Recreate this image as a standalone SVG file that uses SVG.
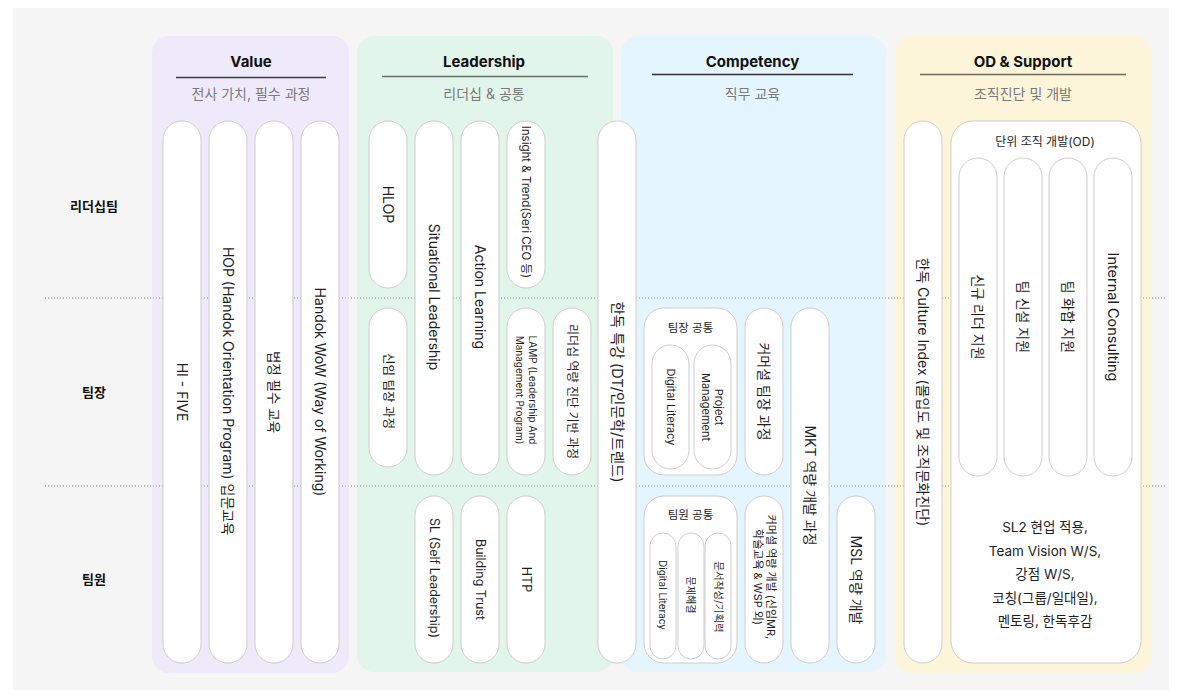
<svg xmlns="http://www.w3.org/2000/svg" width="1182" height="697" viewBox="0 0 1182 697">
<style>
text{font-family:Inter,"Noto Sans CJK KR",sans-serif;fill:#1e1e1e}
.title{font-size:15px;font-weight:700;text-anchor:middle;fill:#111}
.sub{font-size:14px;text-anchor:middle;fill:#7a7a7a}
.row{font-size:13px;font-weight:700;text-anchor:middle;dominant-baseline:central;fill:#111}
.pill{fill:#fff;stroke:#cdcdcd;stroke-width:1}
.grp{fill:#fff;stroke:#cdcdcd;stroke-width:1}
.vt{text-anchor:middle;dominant-baseline:central}
.lbl{text-anchor:middle;dominant-baseline:central}
.dot{stroke:#8a8a8a;stroke-width:1;stroke-dasharray:1 2;fill:none}
</style>
<rect x="0" y="0" width="1182" height="697" fill="#ffffff"/>
<rect x="13" y="8" width="1156" height="682" fill="#f5f5f5"/>

<!-- panels -->
<g id="panel-value">
<rect x="152" y="36" width="197" height="637" rx="17" fill="#eeeafa"/>
<text class="title" x="251" y="67">Value</text>
<line x1="176" y1="77.5" x2="326" y2="77.5" stroke="#3c3c3c" stroke-width="1.5"/>
<text class="sub" x="251" y="98.5">전사 가치, 필수 과정</text>
</g>
<g id="panel-leadership">
<rect x="357" y="36" width="256" height="636" rx="17" fill="#e2f5ea"/>
<text class="title" x="484" y="67">Leadership</text>
<line x1="382" y1="76.5" x2="588" y2="76.5" stroke="#66736a" stroke-width="1.5"/>
<text class="sub" x="484" y="98.5">리더십 &amp; 공통</text>
</g>
<g id="panel-competency">
<rect x="621" y="36" width="265" height="636" rx="17" fill="#e4f5fd"/>
<text class="title" x="752.5" y="67">Competency</text>
<line x1="652" y1="74.5" x2="853" y2="74.5" stroke="#333" stroke-width="1.5"/>
<text class="sub" x="752.5" y="98.5">직무 교육</text>
</g>
<g id="panel-od">
<rect x="895" y="36" width="256" height="637" rx="17" fill="#fdf5d9"/>
<text class="title" x="1023" y="67">OD &amp; Support</text>
<line x1="920" y1="74.5" x2="1126" y2="74.5" stroke="#6e6a5a" stroke-width="1.5"/>
<text class="sub" x="1023" y="98.5">조직진단 및 개발</text>
</g>

<!-- row labels -->
<g id="rows">
<text class="row" x="94" y="206">리더십팀</text>
<text class="row" x="94" y="392">팀장</text>
<text class="row" x="94" y="579">팀원</text>
</g>

<!-- row separators -->
<g id="connectors">
<line class="dot" x1="45" y1="298" x2="1165" y2="298"/>
<line class="dot" x1="45" y1="486" x2="1165" y2="486"/>
</g>

<!-- Value -->
<g id="n-hifive"><rect class="pill" x="163" y="121" width="38" height="542" rx="19"/>
<text class="vt" font-size="14" transform="translate(182,392) rotate(90)">HI - FIVE</text></g>
<g id="n-hop"><rect class="pill" x="209" y="121" width="38" height="542" rx="19"/>
<text class="vt" font-size="14" transform="translate(228,391) rotate(90)">HOP (Handok Orientation Program) 입문교육</text></g>
<g id="n-legal"><rect class="pill" x="255" y="121" width="38" height="542" rx="19"/>
<text class="vt" font-size="13.5" transform="translate(274,392) rotate(90)">법정 필수 교육</text></g>
<g id="n-wow"><rect class="pill" x="301" y="121" width="38" height="542" rx="19"/>
<text class="vt" font-size="14" transform="translate(320,392) rotate(90)">Handok WoW (Way of Working)</text></g>

<!-- Leadership -->
<g id="n-hlop"><rect class="pill" x="369" y="121" width="38" height="167" rx="19"/>
<text class="vt" font-size="14" transform="translate(388,204.5) rotate(90)">HLOP</text></g>
<g id="n-situational"><rect class="pill" x="415" y="121" width="38" height="354" rx="19"/>
<text class="vt" font-size="14" transform="translate(434,297) rotate(90)">Situational Leadership</text></g>
<g id="n-action"><rect class="pill" x="461" y="121" width="38" height="354" rx="19"/>
<text class="vt" font-size="14" transform="translate(480,297) rotate(90)">Action Learning</text></g>
<g id="n-insight"><rect class="pill" x="507" y="121" width="38" height="167" rx="19"/>
<text class="vt" font-size="11.5" transform="translate(526,202) rotate(90)">Insight &amp; Trend(Seri CEO 등)</text></g>
<g id="n-newlead"><rect class="pill" x="369" y="308" width="38" height="159" rx="19"/>
<text class="vt" font-size="12.5" transform="translate(388,391) rotate(90)">신임 팀장 과정</text></g>
<g id="n-lamp"><rect class="pill" x="507" y="308" width="38" height="167" rx="19"/>
<text class="vt" font-size="10" transform="translate(526,390) rotate(90)"><tspan x="0" y="-6.5">LAMP (Leadership And</tspan><tspan x="0" y="6.5">Management Program)</tspan></text></g>
<g id="n-diag"><rect class="pill" x="553" y="308" width="38" height="167" rx="19"/>
<text class="vt" font-size="12" transform="translate(572,391.5) rotate(90)">리더십 역량 진단 기반 과정</text></g>
<g id="n-sl"><rect class="pill" x="415" y="496" width="38" height="167" rx="19"/>
<text class="vt" font-size="12.5" transform="translate(434,578) rotate(90)">SL (Self Leadership)</text></g>
<g id="n-trust"><rect class="pill" x="461" y="496" width="38" height="167" rx="19"/>
<text class="vt" font-size="12.5" transform="translate(480,579.5) rotate(90)">Building Trust</text></g>
<g id="n-htp"><rect class="pill" x="507" y="496" width="38" height="167" rx="19"/>
<text class="vt" font-size="12.5" transform="translate(526,579.5) rotate(90)">HTP</text></g>
<g id="n-special"><rect class="pill" x="598" y="121" width="38" height="542" rx="19"/>
<text class="vt" font-size="14.5" transform="translate(617,392) rotate(90)">한독 특강 (DT/인문학/트렌드)</text></g>

<!-- Competency -->
<g id="n-lead-common"><rect class="grp" x="644" y="308" width="93" height="167" rx="20"/>
<text class="lbl" font-size="11.5" x="690.5" y="328">팀장 공통</text>
<rect class="pill" x="652" y="345" width="37" height="124" rx="18.5"/>
<text class="vt" font-size="11" transform="translate(670.5,407) rotate(90)">Digital Literacy</text>
<rect class="pill" x="694" y="345" width="37" height="124" rx="18.5"/>
<text class="vt" font-size="11" transform="translate(712.5,407) rotate(90)"><tspan x="0" y="-6.5">Project</tspan><tspan x="0" y="6.5">Management</tspan></text></g>
<g id="n-comm-lead"><rect class="pill" x="745" y="308" width="38" height="167" rx="19"/>
<text class="vt" font-size="14" transform="translate(764,391.5) rotate(90)">커머셜 팀장 과정</text></g>
<g id="n-mkt"><rect class="pill" x="791" y="308" width="38" height="355" rx="19"/>
<text class="vt" font-size="14" transform="translate(810,485.5) rotate(90)">MKT 역량 개발 과정</text></g>
<g id="n-member-common"><rect class="grp" x="644" y="496" width="93" height="167" rx="20"/>
<text class="lbl" font-size="11.5" x="690.5" y="515">팀원 공통</text>
<rect class="pill" x="650" y="533" width="26" height="126" rx="13"/>
<text class="vt" font-size="10" transform="translate(663,595) rotate(90)">Digital Literacy</text>
<rect class="pill" x="678" y="533" width="26" height="126" rx="13"/>
<text class="vt" font-size="10" transform="translate(691,595) rotate(90)">문제해결</text>
<rect class="pill" x="705" y="533" width="26" height="126" rx="13"/>
<text class="vt" font-size="10.5" transform="translate(718,597) rotate(90)">문서작성/기획력</text></g>
<g id="n-comm-dev"><rect class="pill" x="745" y="496" width="38" height="167" rx="19"/>
<text class="vt" font-size="11" transform="translate(764,577) rotate(90)"><tspan x="0" y="-6.5">커머셜 역량 개발 (신임MR,</tspan><tspan x="0" y="6.5">학술교육 &amp; WSP 외)</tspan></text></g>
<g id="n-msl"><rect class="pill" x="837" y="496" width="38" height="167" rx="19"/>
<text class="vt" font-size="14" transform="translate(856,580) rotate(90)">MSL 역량 개발</text></g>

<!-- OD & Support -->
<g id="n-culture"><rect class="pill" x="904" y="121" width="38" height="542" rx="19"/>
<text class="vt" font-size="14" transform="translate(923,392) rotate(90)">한독 Culture Index (몰입도 및 조직문화진단)</text></g>
<g id="n-od"><rect class="grp" x="951" y="121" width="190" height="542" rx="22"/>
<text class="lbl" font-size="12" x="1045" y="141">단위 조직 개발(OD)</text>
<rect class="pill" x="959" y="158" width="38" height="318" rx="19"/>
<text class="vt" font-size="14" transform="translate(978,317) rotate(90)">신규 리더 지원</text>
<rect class="pill" x="1004" y="158" width="38" height="318" rx="19"/>
<text class="vt" font-size="14" transform="translate(1023,317) rotate(90)">팀 신설 지원</text>
<rect class="pill" x="1049" y="158" width="38" height="318" rx="19"/>
<text class="vt" font-size="14" transform="translate(1068,317) rotate(90)">팀 화합 지원</text>
<rect class="pill" x="1094" y="158" width="38" height="318" rx="19"/>
<text class="vt" font-size="14.5" transform="translate(1113,317) rotate(90)">Internal Consulting</text>
<text class="lbl" font-size="13.5" x="1045" y="527">SL2 현업 적용,</text>
<text class="lbl" font-size="13.5" x="1045" y="550.5">Team Vision W/S,</text>
<text class="lbl" font-size="13.5" x="1045" y="574">강점 W/S,</text>
<text class="lbl" font-size="13.5" x="1045" y="597.5">코칭(그룹/일대일),</text>
<text class="lbl" font-size="13.5" x="1045" y="621">멘토링, 한독후감</text></g>
</svg>
